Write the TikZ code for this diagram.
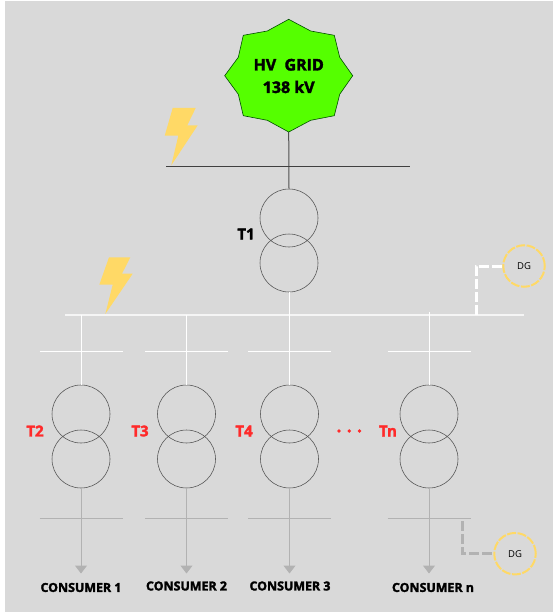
\documentclass[tikz,border=0pt]{standalone}
\usepackage{fontspec}
\setmainfont{Open Sans}[BoldFeatures={FakeBold=2.2}]
\definecolor{bg}{HTML}{D9D9D9}
\definecolor{boltc}{HTML}{FFD966}
\definecolor{gridg}{HTML}{55FF00}
\definecolor{redt}{HTML}{FF2A2A}
\definecolor{greyl}{HTML}{B2B2B2}
\definecolor{darkl}{HTML}{505050}
\usetikzlibrary{arrows.meta}
\tikzset{
  winding/.style={circle,draw=darkl,line width=.55pt,minimum size=58pt,inner sep=0pt},
  bolt/.style={fill=boltc,draw=none},
  whitel/.style={draw=white,line width=.9pt},
  whitebus/.style={draw=white!75!bg,line width=1.5pt},
  greyline/.style={draw=greyl,line width=1pt},
  dgen/.style={circle,draw=boltc,line width=2pt,dash pattern=on 9pt off 1.5pt,minimum size=41.5pt,inner sep=0pt,font=\fontsize{9.5}{10}\selectfont,text=black},
  tlab/.style={font=\fontsize{15}{15}\selectfont\bfseries,text=redt,inner sep=0pt},
  conlab/.style={font=\fontsize{12.4}{13}\selectfont\bfseries,text=black,inner sep=0pt},
  arr/.style={-{Triangle[width=12pt,length=8pt]}},
}
\begin{document}
\begin{tikzpicture}[x=1pt,y=-1pt]
\useasboundingbox (0,0) rectangle (553,615);
\fill[white] (0,0) rectangle (553,615);
\fill[bg] (5,1) rectangle (553,612);
% bolts
\fill[bolt] (172.7,108)--(195.7,108)--(187.3,125.3)--(197.7,125.3)--(171.3,165.3)--(178.3,135.7)--(164.7,135.7)--cycle;
\fill[bolt] (109,257.3)--(130.3,257.3)--(122,273.7)--(132.7,273.7)--(105.3,314)--(112.7,284.7)--(99.3,284.7)--cycle;
% anchors
\coordinate (gridb) at (288.7,132);
\coordinate (hva) at (166,166.5); \coordinate (hvb) at (410,166.5);
\coordinate (mva) at (65,315); \coordinate (mvb) at (524,315);
\node[winding] (t1a) at (289,218) {};
\node[winding] (t1b) at (289,263) {};
\coordinate (t1bus) at (289,315);
\draw[darkl,line width=1pt] (gridb) -- (t1a.north);
\draw[black!75,line width=1.2pt] (hva) -- (hvb);
\draw[whitebus] (mva) -- (mvb);
\draw[whitel] (t1b.south) -- (t1bus);
% feeders
\foreach \n/\x/\y in {2/81/315,3/186.5/315,4/289.5/315,n/429/312}{
  \node[winding] (up\n) at (\x,414) {};
  \node[winding] (lo\n) at (\x,459) {};
  \coordinate (top\n) at (\x,\y);
  \coordinate (end\n) at (\x,573.5);
  \coordinate (sa\n) at (\x-41.5,351); \coordinate (sb\n) at (\x+41.5,351);
  \coordinate (la\n) at (\x-41.5,518.3); \coordinate (lb\n) at (\x+41.5,518.3);
  \draw[whitel] (top\n) -- (up\n.north);
  \draw[whitel] (sa\n) -- (sb\n);
  \draw[greyline] (la\n) -- (lb\n);
  \draw[greyline,arr] (lo\n.south) -- (end\n);
}
% DG
\node[dgen] (dg1) at (524,266) {DG};
\node[dgen] (dg2) at (515,553.7) {DG};
\coordinate (d1a) at (476,315); \coordinate (d1b) at (476,266);
\coordinate (d2a) at (462.7,521); \coordinate (d2b) at (462.7,553.7);
\draw[white,line width=3pt,dash pattern=on 10pt off 3pt] (d1a) -- (d1b) -- (dg1.west);
\draw[greyl,line width=3pt,dash pattern=on 10pt off 3pt] (d2a) -- (d2b) -- (dg2.west);
% star
\draw[fill=gridg,draw=black!70!green,line width=.6pt] (288.7,19.3)--(310.7,31)--(334.3,35.3)--(339.7,57.3)--(352.7,75.7)--(339.7,94.3)--(334.3,115.7)--(310.7,120.3)--(288.7,132)--(267.3,120.3)--(243.3,115.7)--(238.3,94.3)--(224.7,75.7)--(238.3,57.3)--(243.3,35.3)--(267.3,31)--cycle;
\node[inner sep=0pt,align=center,font=\fontsize{16}{22.5}\selectfont\bfseries] (hvlabel) at (288.7,76) {HV\ \ GRID\\138 kV};
% labels
\node[tlab,text=black] (lt1) at (246,234) {T1};
\node[tlab] (lt2) at (35,431) {T2};
\node[tlab] (lt3) at (140,431) {T3};
\node[tlab] (lt4) at (244,431) {T4};
\node[tlab] (ltn) at (388,431) {Tn};
\foreach \x/\m in {339/a,349.3/b,359.5/c}{\node[circle,fill=redt,minimum size=3.8pt,inner sep=0pt] (dot\m) at (\x,431) {};}
\node[conlab] (c1) at (81,587.5) {CONSUMER 1};
\node[conlab] (c2) at (186.5,586) {CONSUMER 2};
\node[conlab] (c3) at (290,586) {CONSUMER 3};
\node[conlab] (cn) at (433,587.5) {CONSUMER n};
\end{tikzpicture}
\end{document}
